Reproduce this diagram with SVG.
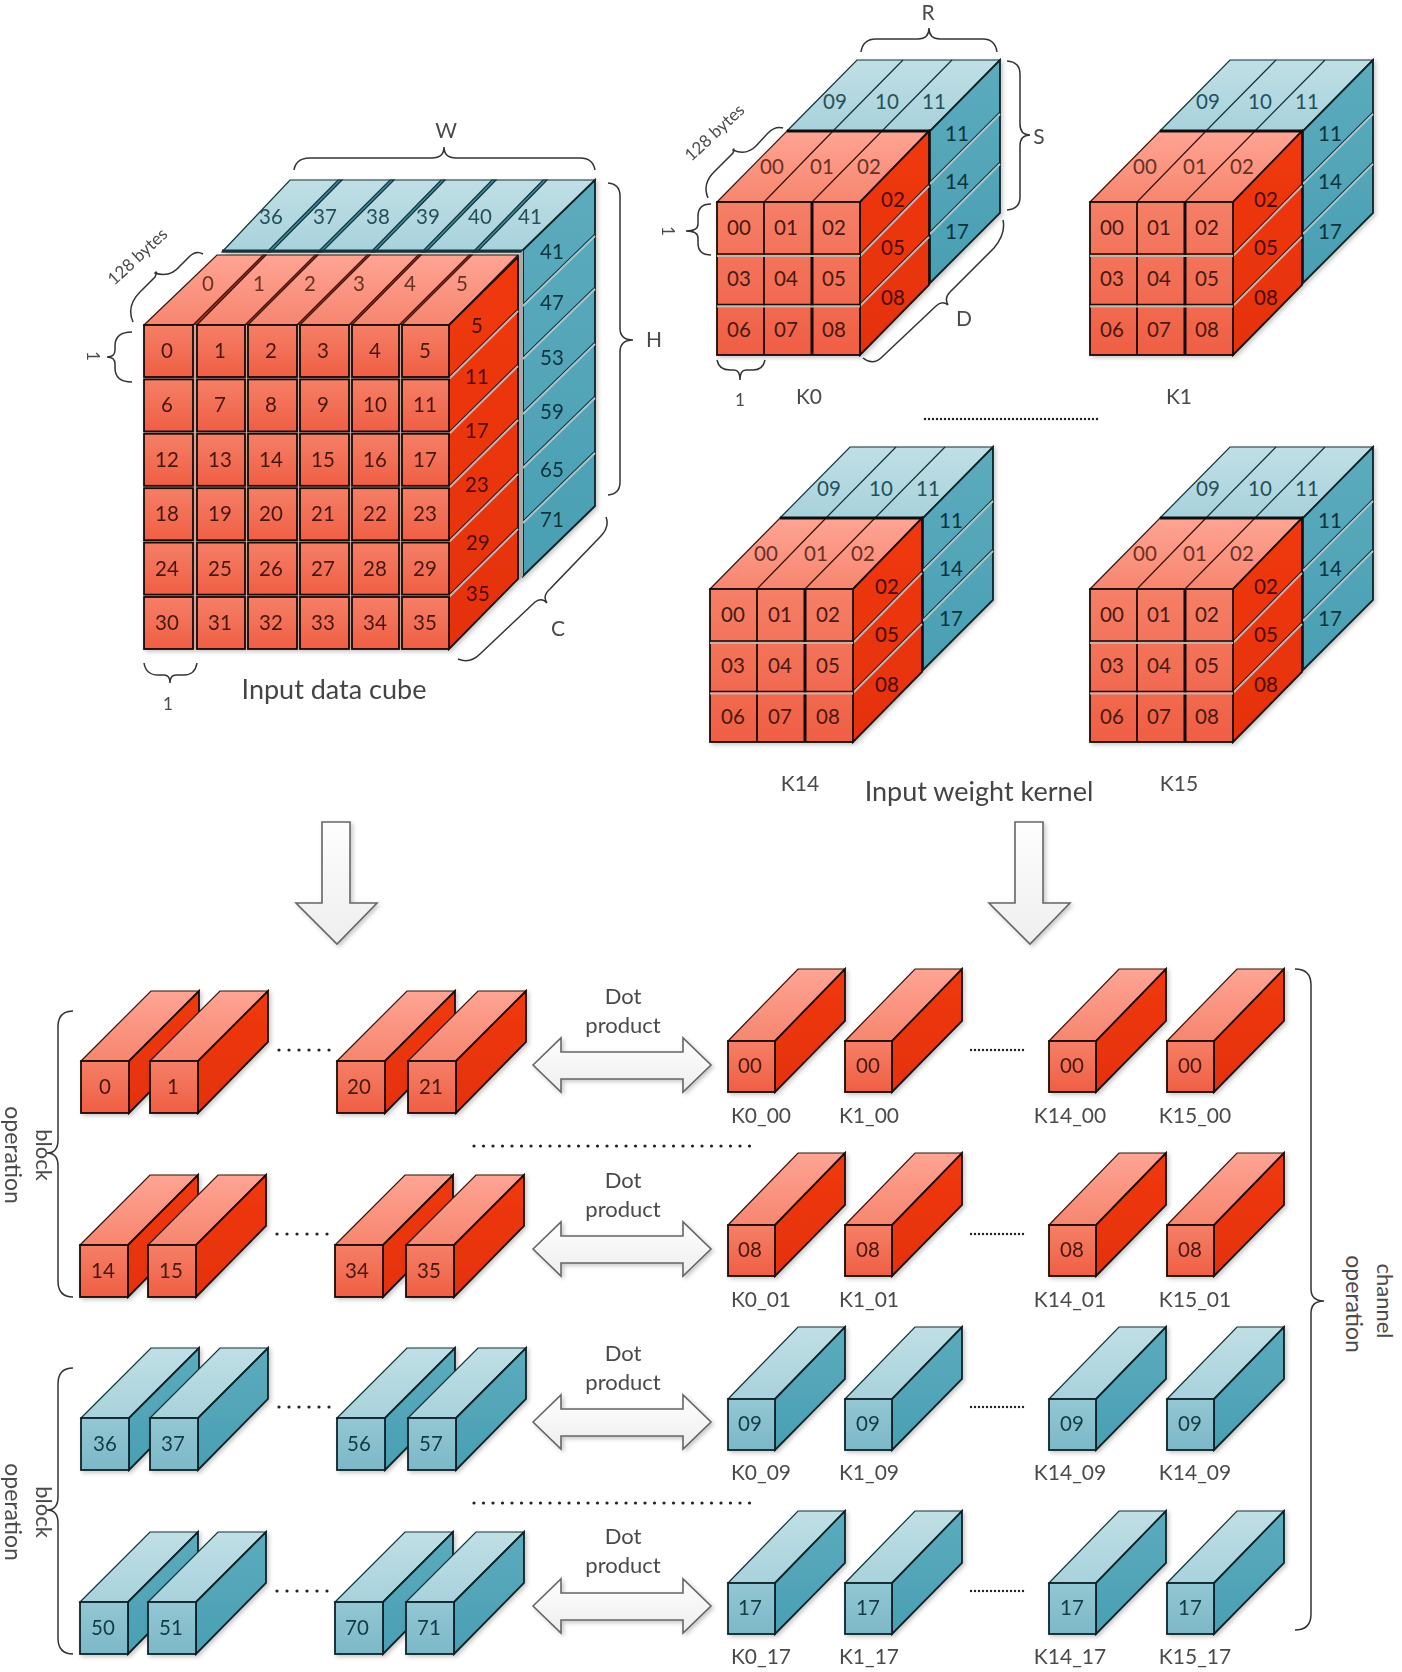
<svg xmlns="http://www.w3.org/2000/svg" xmlns:xlink="http://www.w3.org/1999/xlink" width="1402" height="1672" viewBox="0 0 1402 1672">
<style>
text{font-family:Lato,"Open Sans","Liberation Sans",sans-serif;font-size:20.5px;text-anchor:middle;dominant-baseline:central;fill:#444}
.fr text,text.fr{fill:#4a180e}.rt{fill:#6a3024}.rs{fill:#4a0a00}.tt{fill:#26505a}.ts{fill:#08343e}.ft{fill:#123c46}
.lb{font-size:21px;fill:#4a4a4a}.big{font-size:27px;fill:#444}.sm{font-size:17px;fill:#4a4a4a}.dp{font-size:22px;fill:#4a4a4a}.vt{font-size:23px;fill:#4a4a4a}
.b{fill:none;stroke:#333;stroke-width:1.5}
.rf{fill:url(#gF);stroke:#1a0805;stroke-width:1.8}.tf{fill:url(#gTF);stroke:#0a2228;stroke-width:1.8}
.rtp{fill:url(#gRT);stroke:#3a1208;stroke-width:1.2}.ttp{fill:url(#gTT);stroke:#12323a;stroke-width:1.2}
.rsd{fill:url(#gRS);stroke:#1a0805;stroke-width:1.8}.tsd{fill:url(#gTS);stroke:#0a2228;stroke-width:1.8}
.sep{stroke:#c6b2ac;stroke-width:2;fill:none}.sd{stroke:#3a1208;stroke-width:1.1;fill:none}.sdt{stroke:#12323a;stroke-width:1.1;fill:none}
.dk{stroke:#3a1208;stroke-width:1.2;fill:none}.dkt{stroke:#12323a;stroke-width:1.2;fill:none}
.ar{fill:url(#gA);stroke:#666;stroke-width:1.6;stroke-linejoin:miter}
.dot{fill:none;stroke:#222;stroke-width:3.2;stroke-linecap:round}
</style>
<defs>
<linearGradient id="gF" x1="0" y1="0" x2="0" y2="1"><stop offset="0" stop-color="#f57f67"/><stop offset="1" stop-color="#ef5f44"/></linearGradient>
<linearGradient id="gRT" x1="0" y1="0" x2="0" y2="1"><stop offset="0" stop-color="#ffa494"/><stop offset="1" stop-color="#f6866f"/></linearGradient>
<linearGradient id="gRS" x1="0" y1="0" x2="0" y2="1"><stop offset="0" stop-color="#f0380c"/><stop offset="1" stop-color="#e4320c"/></linearGradient>
<linearGradient id="gTF" x1="0" y1="0" x2="0" y2="1"><stop offset="0" stop-color="#93c7d3"/><stop offset="1" stop-color="#7cb8c8"/></linearGradient>
<linearGradient id="gTT" x1="0" y1="0" x2="0" y2="1"><stop offset="0" stop-color="#c0dfe5"/><stop offset="1" stop-color="#a8d2dc"/></linearGradient>
<linearGradient id="gTS" x1="0" y1="0" x2="0" y2="1"><stop offset="0" stop-color="#5cabbd"/><stop offset="1" stop-color="#4a9fb3"/></linearGradient>
<linearGradient id="gA" x1="0" y1="0" x2="0" y2="1"><stop offset="0" stop-color="#fefefe"/><stop offset="1" stop-color="#eeeeee"/></linearGradient>
<filter id="sh" x="-5%" y="-5%" width="112%" height="112%"><feDropShadow dx="2" dy="2" stdDeviation="2" flood-color="#000" flood-opacity=".22"/></filter>
<g id="barR" filter="url(#sh)"><polygon class="rtp" points="0,0 70,-70 118,-70 48,0"/><polygon class="rsd" points="48,0 118,-70 118,-19 48,52"/><rect class="rf" width="48" height="52"/></g>
<g id="barT" filter="url(#sh)"><polygon class="ttp" points="0,0 70,-70 118,-70 48,0"/><polygon class="tsd" points="48,0 118,-70 118,-19 48,52"/><rect class="tf" width="48" height="52"/></g>
<g id="keR" filter="url(#sh)"><polygon class="rtp" points="0,0 70,-72 117,-72 47,0"/><polygon class="rsd" points="47,0 117,-72 117,-20 47,51"/><rect class="rf" width="47" height="51"/></g>
<g id="keT" filter="url(#sh)"><polygon class="ttp" points="0,0 70,-72 117,-72 47,0"/><polygon class="tsd" points="47,0 117,-72 117,-20 47,51"/><rect class="tf" width="47" height="51"/></g>
<g id="kShape" filter="url(#sh)">
<polygon class="ttp" points="787,131 857,60 1000,60 930,131"/>
<path class="dkt" d="M833 131L903 60M882 131L952 60"/>
<polygon class="tsd" points="930,131 1000,60 1000,213 930,283"/>
<path class="sdt" d="M930 182L1000 112M930 232L1000 162"/>
<path class="sep" style="stroke:#a8c4ca" d="M930 184L1000 114M930 234L1000 164"/>
<polygon class="rtp" points="717,202 787,131 929,131 860,202"/>
<path class="dk" d="M764 202L833 131M812 202L882 131"/>
<path d="M787 131H930" stroke="#111" stroke-width="3"/>
<polygon class="rsd" points="860,202 929,131 929,285 860,355"/>
<path class="sd" d="M860 254L929 184M860 304L929 235"/>
<path class="sep" d="M860 256L929 186M860 306L929 237"/>
<rect class="rf" x="717" y="202" width="143" height="153"/>
<path d="M764 202V355" stroke="#1a0805" stroke-width="1.8"/><path d="M812 202V355" stroke="#120503" stroke-width="3"/>
<path d="M717 254H860M717 304.5H860" stroke="#1a0805" stroke-width="1.4"/>
<path class="sep" d="M717 256H860M717 306.5H860"/>
</g>
</defs>
<rect width="1402" height="1672" fill="#fff"/>

<g id="data-cube" filter="url(#sh)">
<polygon class="ttp" points="222,252 290,180 595,180 523,252"/>
<g fill="#3e8a9b" stroke="#12323a" stroke-width="1.2">
<polygon points="267,252 338,180 342,180 271,252"/><polygon points="318,252 390,180 394,180 322,252"/><polygon points="371,252 441,180 445,180 375,252"/><polygon points="422,252 492,180 496,180 426,252"/><polygon points="473,252 543,180 547,180 477,252"/>
</g>
<path d="M222 251H523" stroke="#12323a" stroke-width="3"/>
<polygon class="tsd" points="523,250 595,180 595,506 523,576"/>
<path class="sdt" d="M523 304L595 234M523 357L595 287M523 412L595 342M523 466L595 396M523 521L595 451"/>
<path class="sep" style="stroke:#a8c4ca" d="M523 306L595 236M523 359L595 289M523 414L595 344M523 468L595 398M523 523L595 453"/>
<polygon fill="#aaa" stroke="none" points="518,257 523,250 523,576 518,581"/>
<polygon class="rtp" points="144,325 217,255 518,255 449,325"/>
<g fill="#a8321a" stroke="#3a1208" stroke-width="1.2">
<polygon points="193,325 263,255 266,255 197,325"/><polygon points="245,325 315,255 318,255 248,325"/><polygon points="297,325 367,255 370,255 300,325"/><polygon points="349,325 418,255 421,255 352,325"/><polygon points="399,325 469,255 472,255 402,325"/>
</g>
<polygon class="rsd" points="449,325 518,257 518,579 449,649"/>
<path class="sd" d="M449 377L518 309M449 432L518 364M449 486L518 418M449 540L518 472M449 595L518 527"/>
<path class="sep" d="M449 379L518 311M449 434L518 366M449 488L518 420M449 542L518 474M449 597L518 529"/>
<rect x="144" y="325" width="305" height="324" fill="#c9a69c"/>
<g class="rects">
<rect class="rf" x="144" y="325" width="49" height="52"/><rect class="rf" x="197" y="325" width="48" height="52"/><rect class="rf" x="248" y="325" width="49" height="52"/><rect class="rf" x="300" y="325" width="49" height="52"/><rect class="rf" x="352" y="325" width="47" height="52"/><rect class="rf" x="402" y="325" width="47" height="52"/>
<rect class="rf" x="144" y="379.4" width="49" height="52"/><rect class="rf" x="197" y="379.4" width="48" height="52"/><rect class="rf" x="248" y="379.4" width="49" height="52"/><rect class="rf" x="300" y="379.4" width="49" height="52"/><rect class="rf" x="352" y="379.4" width="47" height="52"/><rect class="rf" x="402" y="379.4" width="47" height="52"/>
<rect class="rf" x="144" y="433.8" width="49" height="52"/><rect class="rf" x="197" y="433.8" width="48" height="52"/><rect class="rf" x="248" y="433.8" width="49" height="52"/><rect class="rf" x="300" y="433.8" width="49" height="52"/><rect class="rf" x="352" y="433.8" width="47" height="52"/><rect class="rf" x="402" y="433.8" width="47" height="52"/>
<rect class="rf" x="144" y="488.2" width="49" height="52"/><rect class="rf" x="197" y="488.2" width="48" height="52"/><rect class="rf" x="248" y="488.2" width="49" height="52"/><rect class="rf" x="300" y="488.2" width="49" height="52"/><rect class="rf" x="352" y="488.2" width="47" height="52"/><rect class="rf" x="402" y="488.2" width="47" height="52"/>
<rect class="rf" x="144" y="542.6" width="49" height="52"/><rect class="rf" x="197" y="542.6" width="48" height="52"/><rect class="rf" x="248" y="542.6" width="49" height="52"/><rect class="rf" x="300" y="542.6" width="49" height="52"/><rect class="rf" x="352" y="542.6" width="47" height="52"/><rect class="rf" x="402" y="542.6" width="47" height="52"/>
<rect class="rf" x="144" y="597" width="49" height="52"/><rect class="rf" x="197" y="597" width="48" height="52"/><rect class="rf" x="248" y="597" width="49" height="52"/><rect class="rf" x="300" y="597" width="49" height="52"/><rect class="rf" x="352" y="597" width="47" height="52"/><rect class="rf" x="402" y="597" width="47" height="52"/>
</g>
<g class="fr" transform="translate(-1 -1)">
<text x="168" y="351">0</text><text x="221" y="351">1</text><text x="272" y="351">2</text><text x="324" y="351">3</text><text x="376" y="351">4</text><text x="426" y="351">5</text>
<text x="168" y="405">6</text><text x="221" y="405">7</text><text x="272" y="405">8</text><text x="324" y="405">9</text><text x="376" y="405">10</text><text x="426" y="405">11</text>
<text x="168" y="460">12</text><text x="221" y="460">13</text><text x="272" y="460">14</text><text x="324" y="460">15</text><text x="376" y="460">16</text><text x="426" y="460">17</text>
<text x="168" y="514">18</text><text x="221" y="514">19</text><text x="272" y="514">20</text><text x="324" y="514">21</text><text x="376" y="514">22</text><text x="426" y="514">23</text>
<text x="168" y="569">24</text><text x="221" y="569">25</text><text x="272" y="569">26</text><text x="324" y="569">27</text><text x="376" y="569">28</text><text x="426" y="569">29</text>
<text x="168" y="623">30</text><text x="221" y="623">31</text><text x="272" y="623">32</text><text x="324" y="623">33</text><text x="376" y="623">34</text><text x="426" y="623">35</text>
</g>
<g transform="translate(0 -1)">
<text class="rt" x="208" y="284">0</text><text class="rt" x="259" y="284">1</text><text class="rt" x="310" y="284">2</text><text class="rt" x="359" y="284">3</text><text class="rt" x="410" y="284">4</text><text class="rt" x="462" y="284">5</text>
<text class="tt" x="271" y="217">36</text><text class="tt" x="325" y="217">37</text><text class="tt" x="378" y="217">38</text><text class="tt" x="428" y="217">39</text><text class="tt" x="480" y="217">40</text><text class="tt" x="530" y="217">41</text>
<text class="rs" x="477" y="326">5</text><text class="rs" x="477" y="377">11</text><text class="rs" x="477" y="431">17</text><text class="rs" x="477" y="485">23</text><text class="rs" x="478" y="543">29</text><text class="rs" x="478" y="594">35</text>
<text class="ts" x="552" y="252">41</text><text class="ts" x="552" y="303">47</text><text class="ts" x="552" y="358">53</text><text class="ts" x="552" y="412">59</text><text class="ts" x="552" y="470">65</text><text class="ts" x="552" y="520">71</text>
</g>
</g>

<g id="kernel-k0">
<use xlink:href="#kShape" href="#kShape"/>
<g transform="translate(0 -1)">
<text class="fr" x="739" y="228">00</text><text class="fr" x="786" y="228">01</text><text class="fr" x="834" y="228">02</text><text class="fr" x="739" y="279">03</text><text class="fr" x="786" y="279">04</text><text class="fr" x="834" y="279">05</text><text class="fr" x="739" y="330">06</text><text class="fr" x="786" y="330">07</text><text class="fr" x="834" y="330">08</text>
<text class="rt" x="772" y="167">00</text><text class="rt" x="822" y="167">01</text><text class="rt" x="869" y="167">02</text>
<text class="rs" x="893" y="200">02</text><text class="rs" x="893" y="248">05</text><text class="rs" x="893" y="298">08</text>
<text class="tt" x="835" y="102">09</text><text class="tt" x="887" y="102">10</text><text class="tt" x="934" y="102">11</text>
<text class="ts" x="957" y="134">11</text><text class="ts" x="957" y="182">14</text><text class="ts" x="957" y="232">17</text>
</g>
</g>
<g id="kernel-k1" transform="translate(373 0)">
<use xlink:href="#kShape" href="#kShape"/>
<g transform="translate(0 -1)">
<text class="fr" x="739" y="228">00</text><text class="fr" x="786" y="228">01</text><text class="fr" x="834" y="228">02</text><text class="fr" x="739" y="279">03</text><text class="fr" x="786" y="279">04</text><text class="fr" x="834" y="279">05</text><text class="fr" x="739" y="330">06</text><text class="fr" x="786" y="330">07</text><text class="fr" x="834" y="330">08</text>
<text class="rt" x="772" y="167">00</text><text class="rt" x="822" y="167">01</text><text class="rt" x="869" y="167">02</text>
<text class="rs" x="893" y="200">02</text><text class="rs" x="893" y="248">05</text><text class="rs" x="893" y="298">08</text>
<text class="tt" x="835" y="102">09</text><text class="tt" x="887" y="102">10</text><text class="tt" x="934" y="102">11</text>
<text class="ts" x="957" y="134">11</text><text class="ts" x="957" y="182">14</text><text class="ts" x="957" y="232">17</text>
</g>
</g>
<g id="kernel-k14" transform="translate(-7 387)">
<use xlink:href="#kShape" href="#kShape"/>
<g transform="translate(1 -1)">
<text class="fr" x="739" y="228">00</text><text class="fr" x="786" y="228">01</text><text class="fr" x="834" y="228">02</text><text class="fr" x="739" y="279">03</text><text class="fr" x="786" y="279">04</text><text class="fr" x="834" y="279">05</text><text class="fr" x="739" y="330">06</text><text class="fr" x="786" y="330">07</text><text class="fr" x="834" y="330">08</text>
<text class="rt" x="772" y="167">00</text><text class="rt" x="822" y="167">01</text><text class="rt" x="869" y="167">02</text>
<text class="rs" x="893" y="200">02</text><text class="rs" x="893" y="248">05</text><text class="rs" x="893" y="298">08</text>
<text class="tt" x="835" y="102">09</text><text class="tt" x="887" y="102">10</text><text class="tt" x="934" y="102">11</text>
<text class="ts" x="957" y="134">11</text><text class="ts" x="957" y="182">14</text><text class="ts" x="957" y="232">17</text>
</g>
</g>
<g id="kernel-k15" transform="translate(373 387)">
<use xlink:href="#kShape" href="#kShape"/>
<g transform="translate(0 -1)">
<text class="fr" x="739" y="228">00</text><text class="fr" x="786" y="228">01</text><text class="fr" x="834" y="228">02</text><text class="fr" x="739" y="279">03</text><text class="fr" x="786" y="279">04</text><text class="fr" x="834" y="279">05</text><text class="fr" x="739" y="330">06</text><text class="fr" x="786" y="330">07</text><text class="fr" x="834" y="330">08</text>
<text class="rt" x="772" y="167">00</text><text class="rt" x="822" y="167">01</text><text class="rt" x="869" y="167">02</text>
<text class="rs" x="893" y="200">02</text><text class="rs" x="893" y="248">05</text><text class="rs" x="893" y="298">08</text>
<text class="tt" x="835" y="102">09</text><text class="tt" x="887" y="102">10</text><text class="tt" x="934" y="102">11</text>
<text class="ts" x="957" y="134">11</text><text class="ts" x="957" y="182">14</text><text class="ts" x="957" y="232">17</text>
</g>
</g>

<g id="braces">
<path class="b" d="M294 170Q296 158 310 158H432Q444 158 444 147Q444 158 456 158H580Q593 158 595 170"/>
<path class="b" d="M133 322Q126 306 140 292L155 277Q158 270 155 273Q170 278 180 266L190 256Q196 250 203 254"/>
<path class="b" d="M132 332Q115 332 115 346V350Q115 357 107 357Q115 357 115 364V368Q115 382 132 382"/>
<path class="b" d="M608 183Q620 184 620 196V328Q620 340 633 340Q620 340 620 352V482Q620 494 608 495"/>
<path class="b" d="M458 659Q470 664 480 654L535 602Q542 597 547 603Q542 596 550 589L600 537Q610 527 606 517"/>
<path class="b" d="M144 663Q146 675 158 675H164Q170 675 170 683Q170 675 176 675H184Q195 675 197 663"/>
<path class="b" d="M861 52Q863 39 876 39H918Q929 39 929 28Q929 39 940 39H983Q995 39 997 52"/>
<path class="b" d="M1007 61Q1020 62 1020 74V124Q1020 135 1030 135Q1020 135 1020 146V197Q1020 209 1007 210"/>
<path class="b" d="M708 198Q702 184 714 172L733 153Q735 147 733 150Q746 156 756 146L768 133Q775 126 783 128"/>
<path class="b" d="M711 204Q698 204 698 216V224Q698 231 686 231Q698 231 698 238V243Q698 255 711 255"/>
<path class="b" d="M863 358Q873 366 882 357L936 306Q942 300 948 305Q944 298 950 292L994 248Q1006 234 1003 220"/>
<path class="b" d="M717 360Q719 370 730 370H734Q740 370 740 380Q740 370 746 370H753Q763 370 765 360"/>
<path class="b" d="M73 1011Q58 1011 58 1027V1140Q58 1153 47 1153Q58 1153 58 1166V1281Q58 1297 73 1297"/>
<path class="b" d="M73 1368Q58 1368 58 1384V1497Q58 1510 47 1510Q58 1510 58 1523V1638Q58 1654 73 1654"/>
<path class="b" d="M1295 969Q1311 969 1311 985V1289Q1311 1301 1324 1301Q1311 1301 1311 1313V1614Q1311 1630 1295 1630"/>
</g>

<g id="cube-labels">
<text class="lb" x="446" y="129">W</text>
<text class="lb" x="654" y="338">H</text>
<text class="lb" x="558" y="627">C</text>
<text class="lb" x="928" y="11">R</text>
<text class="lb" x="1039" y="135">S</text>
<text class="lb" x="964" y="317">D</text>
<text class="sm" transform="translate(137 256) rotate(-43)">128 bytes</text>
<text class="sm" transform="translate(714 132) rotate(-43)">128 bytes</text>
<text class="sm" transform="translate(93 356) rotate(90)">1</text>
<text class="sm" transform="translate(668 231) rotate(90)">1</text>
<text class="sm" x="168" y="703">1</text>
<text class="sm" x="740" y="399">1</text>
<text class="lb" x="809" y="395">K0</text>
<text class="lb" x="1179" y="395">K1</text>
<text class="lb" x="800" y="782">K14</text>
<text class="lb" x="1179" y="782">K15</text>
<text class="big" x="334" y="688">Input data cube</text>
<text class="big" x="979" y="790">Input weight kernel</text>
</g>

<g id="connectors" filter="url(#sh)">
<polygon class="ar" points="322,822 350,822 350,903 377,903 337,944 296,903 322,903"/>
<polygon class="ar" points="1015,822 1043,822 1043,903 1070,903 1030,944 989,903 1015,903"/>
<polygon class="ar" points="533,1065 561,1038 561,1052 683,1052 683,1038 711,1065 683,1092 683,1079 561,1079 561,1092"/>
<polygon class="ar" points="533,1249 561,1222 561,1236 683,1236 683,1222 711,1249 683,1276 683,1263 561,1263 561,1276"/>
<polygon class="ar" points="533,1422 561,1395 561,1409 683,1409 683,1395 711,1422 683,1449 683,1436 561,1436 561,1449"/>
<polygon class="ar" points="533,1606 561,1579 561,1593 683,1593 683,1579 711,1606 683,1633 683,1620 561,1620 561,1633"/>
</g>
<g id="dots">
<path class="dot" stroke-dasharray="0 10" d="M279 1050H330M277 1234H328M279 1407H330M277 1591H328"/>
<path class="dot" stroke-dasharray="0 9.5" d="M474 1146H757M474 1503H757"/>
<path class="dot" style="stroke-width:2.4" stroke-dasharray="0 4" d="M925 419H1101M971 1050H1027M971 1234H1027M971 1407H1027M971 1591H1027"/>
</g>

<g id="row0"><use xlink:href="#barR" href="#barR" x="81" y="1061"/><text class="fr" x="105" y="1086">0</text><use xlink:href="#barR" href="#barR" x="150" y="1061"/><text class="fr" x="173" y="1086">1</text><use xlink:href="#barR" href="#barR" x="337" y="1061"/><text class="fr" x="359" y="1086">20</text><use xlink:href="#barR" href="#barR" x="408" y="1061"/><text class="fr" x="431" y="1086">21</text></g>
<g id="row1"><use xlink:href="#barR" href="#barR" x="80" y="1245"/><text class="fr" x="103" y="1270">14</text><use xlink:href="#barR" href="#barR" x="148" y="1245"/><text class="fr" x="171" y="1270">15</text><use xlink:href="#barR" href="#barR" x="335" y="1245"/><text class="fr" x="357" y="1270">34</text><use xlink:href="#barR" href="#barR" x="406" y="1245"/><text class="fr" x="429" y="1270">35</text></g>
<g id="row2"><use xlink:href="#barT" href="#barT" x="81" y="1418"/><text class="ft" x="105" y="1443">36</text><use xlink:href="#barT" href="#barT" x="150" y="1418"/><text class="ft" x="173" y="1443">37</text><use xlink:href="#barT" href="#barT" x="337" y="1418"/><text class="ft" x="359" y="1443">56</text><use xlink:href="#barT" href="#barT" x="408" y="1418"/><text class="ft" x="431" y="1443">57</text></g>
<g id="row3"><use xlink:href="#barT" href="#barT" x="80" y="1602"/><text class="ft" x="103" y="1627">50</text><use xlink:href="#barT" href="#barT" x="148" y="1602"/><text class="ft" x="171" y="1627">51</text><use xlink:href="#barT" href="#barT" x="335" y="1602"/><text class="ft" x="357" y="1627">70</text><use xlink:href="#barT" href="#barT" x="406" y="1602"/><text class="ft" x="429" y="1627">71</text></g>

<g id="krow0"><use xlink:href="#keR" href="#keR" x="728" y="1041"/><text class="fr" x="750" y="1065">00</text><use xlink:href="#keR" href="#keR" x="845" y="1041"/><text class="fr" x="868" y="1065">00</text><use xlink:href="#keR" href="#keR" x="1049" y="1041"/><text class="fr" x="1072" y="1065">00</text><use xlink:href="#keR" href="#keR" x="1167" y="1041"/><text class="fr" x="1190" y="1065">00</text></g>
<g id="krow1"><use xlink:href="#keR" href="#keR" x="728" y="1225"/><text class="fr" x="750" y="1249">08</text><use xlink:href="#keR" href="#keR" x="845" y="1225"/><text class="fr" x="868" y="1249">08</text><use xlink:href="#keR" href="#keR" x="1049" y="1225"/><text class="fr" x="1072" y="1249">08</text><use xlink:href="#keR" href="#keR" x="1167" y="1225"/><text class="fr" x="1190" y="1249">08</text></g>
<g id="krow2"><use xlink:href="#keT" href="#keT" x="728" y="1399"/><text class="ft" x="750" y="1423">09</text><use xlink:href="#keT" href="#keT" x="845" y="1399"/><text class="ft" x="868" y="1423">09</text><use xlink:href="#keT" href="#keT" x="1049" y="1399"/><text class="ft" x="1072" y="1423">09</text><use xlink:href="#keT" href="#keT" x="1167" y="1399"/><text class="ft" x="1190" y="1423">09</text></g>
<g id="krow3"><use xlink:href="#keT" href="#keT" x="728" y="1583"/><text class="ft" x="750" y="1607">17</text><use xlink:href="#keT" href="#keT" x="845" y="1583"/><text class="ft" x="868" y="1607">17</text><use xlink:href="#keT" href="#keT" x="1049" y="1583"/><text class="ft" x="1072" y="1607">17</text><use xlink:href="#keT" href="#keT" x="1167" y="1583"/><text class="ft" x="1190" y="1607">17</text></g>

<g id="row-labels">
<text class="dp" x="623" y="995">Dot</text><text class="dp" x="623" y="1024">product</text>
<text class="dp" x="623" y="1179">Dot</text><text class="dp" x="623" y="1208">product</text>
<text class="dp" x="623" y="1352">Dot</text><text class="dp" x="623" y="1381">product</text>
<text class="dp" x="623" y="1535">Dot</text><text class="dp" x="623" y="1564">product</text>
<text class="lb" x="761" y="1114">K0_00</text><text class="lb" x="869" y="1114">K1_00</text><text class="lb" x="1070" y="1114">K14_00</text><text class="lb" x="1195" y="1114">K15_00</text>
<text class="lb" x="761" y="1298">K0_01</text><text class="lb" x="869" y="1298">K1_01</text><text class="lb" x="1070" y="1298">K14_01</text><text class="lb" x="1195" y="1298">K15_01</text>
<text class="lb" x="761" y="1471">K0_09</text><text class="lb" x="869" y="1471">K1_09</text><text class="lb" x="1070" y="1471">K14_09</text><text class="lb" x="1195" y="1471">K14_09</text>
<text class="lb" x="761" y="1655">K0_17</text><text class="lb" x="869" y="1655">K1_17</text><text class="lb" x="1070" y="1655">K14_17</text><text class="lb" x="1195" y="1655">K15_17</text>
<text class="dp" transform="translate(44 1155) rotate(90)">block</text>
<text class="vt" transform="translate(14 1155) rotate(90)">operation</text>
<text class="dp" transform="translate(44 1512) rotate(90)">block</text>
<text class="vt" transform="translate(14 1512) rotate(90)">operation</text>
<text class="dp" transform="translate(1385 1301) rotate(90)">channel</text>
<text class="vt" transform="translate(1355 1304) rotate(90)">operation</text>
</g>
</svg>
